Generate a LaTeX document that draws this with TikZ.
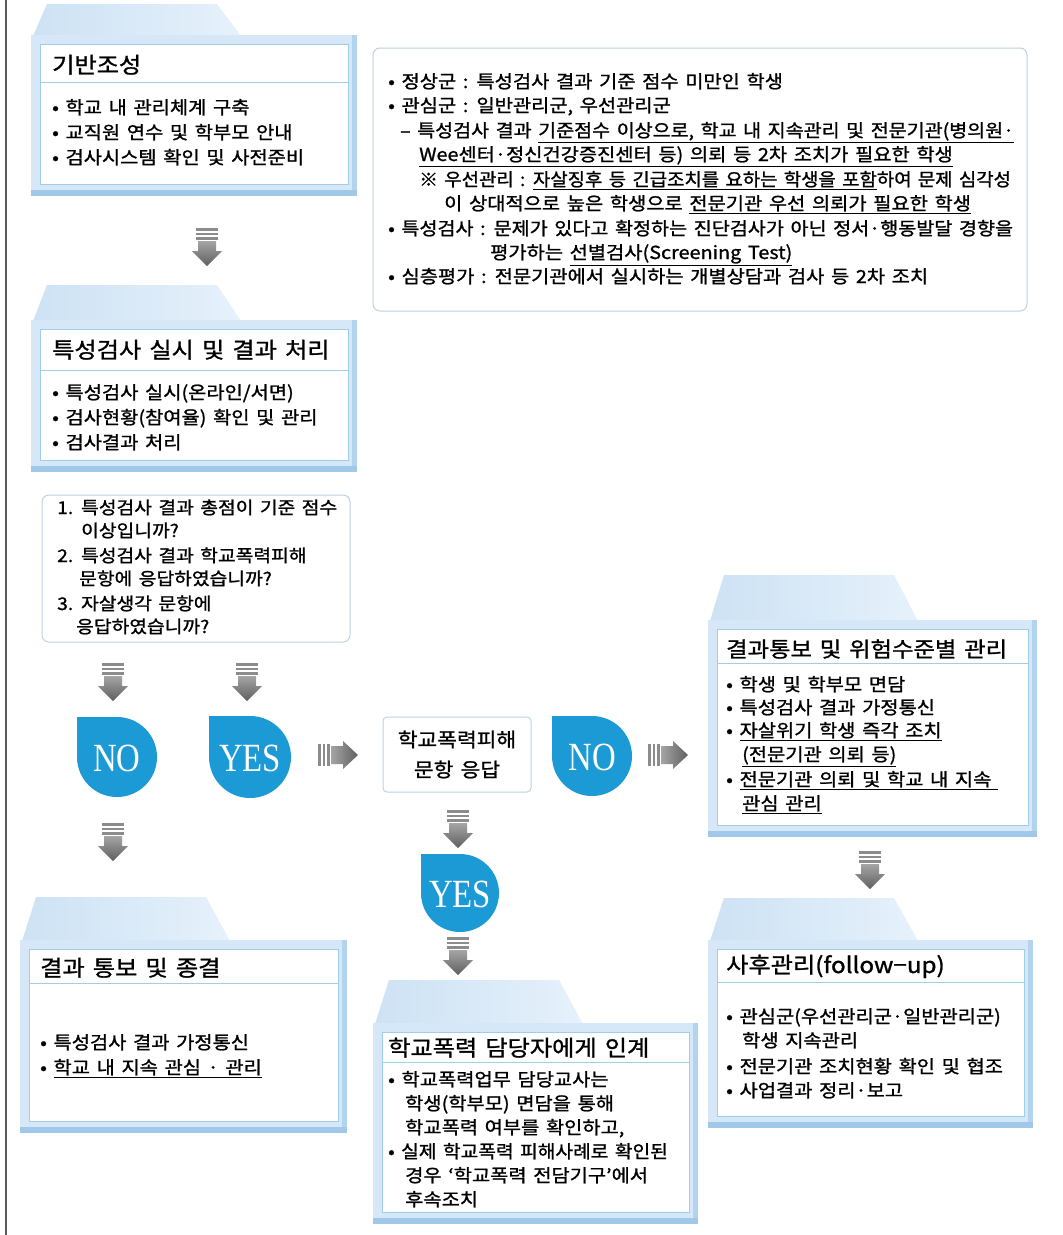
\documentclass[tikz,border=0pt]{standalone}
\usepackage{graphicx}
\usepackage{fontspec}
\setmainfont{Noto Sans CJK KR}[WordSpace=1.5, FakeStretch=1.1, FakeBold=1.2]
\newfontfamily\dropfont[FakeStretch=0.82]{Liberation Serif}
\usetikzlibrary{fit}
\definecolor{dropblue}{RGB}{27,154,214}
\definecolor{tabA}{RGB}{205,226,244}
\definecolor{tabB}{RGB}{230,241,251}
\definecolor{frameA}{RGB}{214,232,247}
\definecolor{frameR}{RGB}{178,212,238}
\definecolor{frameB}{RGB}{160,200,232}
\definecolor{innerline}{RGB}{160,206,232}
\definecolor{boxline}{RGB}{190,210,226}
\definecolor{stripe}{RGB}{140,140,140}
\definecolor{arrlight}{RGB}{165,165,165}
\definecolor{arrdark}{RGB}{95,95,95}
\newcommand\undl[1]{\underline{#1}}
\tikzset{
  txt/.style={anchor=base west, inner sep=0pt, font=\fontsize{18}{20}\selectfont},
  qtxt/.style={txt, font=\fontsize{17.5}{20}\selectfont},
  ttl/.style={anchor=base west, inner sep=0pt, font=\fontsize{22}{24}\selectfont},
  innerbox/.style={draw=innerline, line width=1pt, fill=white, inner sep=0pt},
  roundbox/.style={draw=boxline, line width=1pt, fill=white, rounded corners=7pt, inner sep=0pt},
  droptxt/.style={text=white, inner sep=0pt, font=\dropfont\fontsize{40}{40}\selectfont},
  downarr/.pic={
    \foreach \yy in {0,4.5,9} \fill[stripe] (-11,\yy) rectangle (11,\yy+2.6);
    \shade[top color=arrlight, bottom color=arrdark]
      (-9,13) -- (9,13) -- (9,23) -- (15,23) -- (0,38) -- (-15,23) -- (-9,23) -- cycle;
  },
  rightarr/.pic={
    \foreach \xx in {0,4.5,9} \fill[stripe] (\xx,-11) rectangle (\xx+2.6,11);
    \shade[left color=arrlight, right color=arrdark]
      (13,-9) -- (25,-9) -- (25,-14) -- (40,0) -- (25,14) -- (25,9) -- (13,9) -- cycle;
  }
}
% folder: name, x1, y1, x2, y2, tab top y, divider y
\newcommand\folderbox[7]{%
  \shade[left color=tabA, right color=tabB] (#2+2,#3+1) -- (#2+16,#6) -- (#2+186,#6) -- (#2+210,#3+1) -- cycle;
  \fill[frameA] (#2,#3) rectangle (#4,#5);
  \fill[frameR] (#4-5,#3) rectangle (#4,#5);
  \fill[frameB] (#2,#5-6) rectangle (#4,#5);
  \node[innerbox, fit={(#2+9,#3+9) (#4-9,#5-12)}] (#1) {};
  \draw[innerline, line width=1pt] (#2+9,#7) -- (#4-9,#7);
}
\newcommand\dropat[5]{% name, cx, cy, r, text
  \fill[dropblue] (#2-#4,#3-#4) -- (#2,#3-#4) arc[start angle=-90, end angle=180, radius=#4] -- cycle;
  \node[droptxt] (#1) at (#2,#3+1) {#5};
}
\begin{document}
\begin{tikzpicture}[x=1pt,y=-1pt]
\fill[white] (0,0) rectangle (1063,1235);
\useasboundingbox (0,0) rectangle (1063,1235);
\draw[black!65, line width=1.3pt] (6,0) -- (6,1235);

% ---------- folders ----------
\folderbox{f1}{31}{35}{357}{196}{4}{82}
\node[ttl] (f1t) at (52,73) {기반조성};
\node[txt] (f1a) at (52,114) {• 학교 내 관리체계 구축};
\node[txt] (f1b) at (52,139) {• 교직원 연수 및 학부모 안내};
\node[txt] (f1c) at (52,164) {• 검사시스템 확인 및 사전준비};

\folderbox{f2}{31}{320}{357}{472}{285}{370}
\node[ttl] (f2t) at (52,358) {특성검사 실시 및 결과 처리};
\node[txt] (f2a) at (52,399) {• 특성검사 실시(온라인/서면)};
\node[txt] (f2b) at (52,424) {• 검사현황(참여율) 확인 및 관리};
\node[txt] (f2c) at (52,449) {• 검사결과 처리};

\folderbox{f3}{20}{940}{347}{1133}{897}{983}
\node[ttl] (f3t) at (40,976) {결과 통보 및 종결};
\node[txt] (f3a) at (40,1049) {• 특성검사 결과 가정통신};
\node[txt] (f3b) at (40,1074) {• \undl{학교 내 지속 관심 · 관리}};

\folderbox{f4}{373}{1023}{698}{1224}{980}{1062}
\node[ttl] (f4t) at (388,1056) {학교폭력 담당자에게 인계};
\node[txt] (f4a) at (388,1086) {• 학교폭력업무 담당교사는};
\node[txt] (f4b) at (405,1110) {학생(학부모) 면담을 통해};
\node[txt] (f4c) at (405,1134) {학교폭력 여부를 확인하고,};
\node[txt] (f4d) at (388,1158) {\scalebox{0.97}[1]{• 실제 학교폭력 피해사례로 확인된}};
\node[txt] (f4e) at (405,1182) {경우 ‘학교폭력 전담기구’에서};
\node[txt] (f4f) at (405,1206) {후속조치};

\folderbox{f5}{708}{620}{1037}{837}{575}{663}
\node[ttl, font=\fontsize{21.2}{24}\selectfont] (f5t) at (726,657) {결과통보 및 위험수준별 관리};
\node[txt] (f5a) at (726,691) {• 학생 및 학부모 면담};
\node[txt] (f5b) at (726,714) {• 특성검사 결과 가정통신};
\node[txt] (f5c) at (726,737) {• \undl{자살위기 학생 즉각 조치}};
\node[txt] (f5d) at (742,761) {\undl{(전문기관 의뢰 등)}};
\node[txt] (f5e) at (726,786) {• \undl{전문기관 의뢰 및 학교 내 지속\ }};
\node[txt] (f5f) at (742,810) {\undl{관심 관리}};

\folderbox{f6}{708}{940}{1033}{1128}{898}{982}
\node[ttl] (f6t) at (726,973) {사후관리(follow−up)};
\node[txt] (f6a) at (726,1023) {• 관심군(우선관리군·일반관리군)};
\node[txt] (f6b) at (742,1047) {학생 지속관리};
\node[txt] (f6c) at (726,1073) {• 전문기관 조치현황 확인 및 협조};
\node[txt] (f6d) at (726,1097) {• 사업결과 정리·보고};

% ---------- info box ----------
\node[roundbox, fit={(373,48) (1027,311)}] (info) {};
\node[txt] (i1) at (388,88) {• 정상군 : 특성검사 결과 기준 점수 미만인 학생};
\node[txt] (i2) at (388,112) {• 관심군 : 일반관리군, 우선관리군};
\node[txt] (i3) at (400,137) {\scalebox{0.987}[1]{– 특성검사 결과 \undl{기준점수 이상으로, 학교 내 지속관리 및 전문기관(병의원·}}};
\node[txt] (i4) at (419,161) {\undl{Wee센터·정신건강증진센터 등) 의뢰 등 2차 조치가 필요한 학생}};
\node[txt] (i5) at (419,186) {\scalebox{0.952}[1]{※ 우선관리 : \undl{자살징후 등 긴급조치를 요하는 학생을 포함}하여 문제 심각성}};
\node[txt] (i6) at (444,210) {이 상대적으로 높은 학생으로 \undl{전문기관 우선 의뢰가 필요한 학생}};
\node[txt] (i7) at (388,235) {\scalebox{0.99}[1]{• 특성검사 : 문제가 있다고 확정하는 진단검사가 아닌 정서·행동발달 경향을}};
\node[txt] (i8) at (490,259) {평가하는 \undl{선별검사(Screening Test)}};
\node[txt] (i9) at (388,283) {• 심층평가 : 전문기관에서 실시하는 개별상담과 검사 등 2차 조치};

% ---------- question box ----------
\node[roundbox, fit={(42,495) (350,642)}] (qbox) {};
\node[qtxt] (q1) at (57,514) {1. 특성검사 결과 총점이 기준 점수};
\node[qtxt] (q2) at (81,537) {이상입니까?};
\node[qtxt] (q3) at (57,562) {2. 특성검사 결과 학교폭력피해};
\node[qtxt] (q4) at (79,585) {문항에 응답하였습니까?};
\node[qtxt] (q5) at (57,610) {3. 자살생각 문항에};
\node[qtxt] (q6) at (76,633) {응답하였습니까?};

% ---------- middle box ----------
\node[roundbox, rounded corners=4pt, minimum width=148pt, minimum height=75pt, align=center,
      font=\fontsize{19.5}{30}\selectfont] (mid) at (457,754.5) {학교폭력피해\\문항 응답};

% ---------- drops ----------
\dropat{no1}{117}{757}{40}{NO}
\dropat{yes1}{250}{757}{41}{YES}
\dropat{no2}{592}{756}{40}{NO}
\dropat{yes2}{460}{893}{39}{YES}

% ---------- arrows ----------
\coordinate (a1) at (207,228);
\coordinate (a2) at (113,663);
\coordinate (a3) at (247,663);
\coordinate (a4) at (113,823);
\coordinate (a5) at (458,810);
\coordinate (a6) at (458,937);
\coordinate (a7) at (870,851);
\coordinate (r1) at (318,755);
\coordinate (r2) at (648,755);
\pic at (a1) {downarr};
\pic at (a2) {downarr};
\pic at (a3) {downarr};
\pic at (a4) {downarr};
\pic at (a5) {downarr};
\pic at (a6) {downarr};
\pic at (a7) {downarr};
\pic at (r1) {rightarr};
\pic at (r2) {rightarr};
\end{tikzpicture}
\end{document}
